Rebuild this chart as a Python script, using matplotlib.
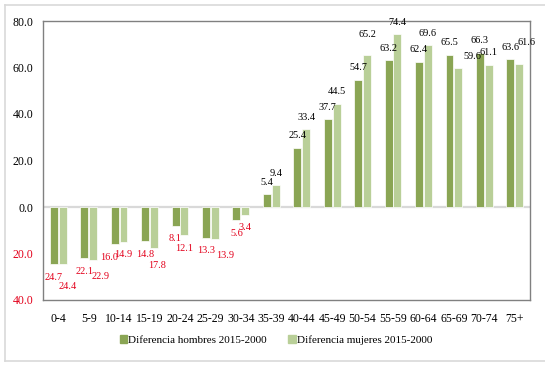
import matplotlib
matplotlib.use("Agg")
import matplotlib.pyplot as plt
import numpy as np
from matplotlib.lines import Line2D

categories = ["0-4", "5-9", "10-14", "15-19", "20-24", "25-29", "30-34", "35-39",
              "40-44", "45-49", "50-54", "55-59", "60-64", "65-69", "70-74", "75+"]
hombres = [-24.7, -22.1, -16.0, -14.8, -8.1, -13.3, -5.6, 5.4,
           25.4, 37.7, 54.7, 63.2, 62.4, 65.5, 66.3, 63.6]
mujeres = [-24.4, -22.9, -14.9, -17.8, -12.1, -13.9, -3.4, 9.4,
           33.4, 44.5, 65.2, 74.4, 69.6, 59.6, 61.1, 61.6]
yticks = [-40, -20, 0, 20, 40, 60, 80]
series_names = ["Diferencia hombres 2015-2000", "Diferencia mujeres 2015-2000"]

DARK = "#8aa554"
LIGHT = "#b9cf98"
RED = "#e3001b"
FONT = "Liberation Serif"
FS = 8.5
FS_LAB = 7.4
FS_LEG = 8.0

plt.rcParams["font.family"] = [FONT, "DejaVu Serif"]

fig = plt.figure(figsize=(5.45, 3.66), dpi=100)
ax = fig.add_axes([43/545, 1-300/366, (530-43)/545, (300-21)/366])

x = np.arange(len(categories))
w = 0.26
off = 0.145
ax.bar(x - off, hombres, w, color=DARK, edgecolor="white", linewidth=0.5, zorder=3,
       label=series_names[0])
ax.bar(x + off, mujeres, w, color=LIGHT, edgecolor="white", linewidth=0.5, zorder=3,
       label=series_names[1])

ax.set_xlim(-0.5, len(categories) - 0.5)
ax.set_ylim(-40, 80)
ax.axhline(0, color="#d9d9d9", lw=1.6, zorder=2)

ax.set_yticks(yticks)
ax.set_yticklabels([f"{abs(v):.1f}" for v in yticks], fontsize=FS)
for lab, v in zip(ax.get_yticklabels(), yticks):
    lab.set_color(RED if v < 0 else "black")
ax.set_xticks(x)
ax.set_xticklabels(categories, fontsize=FS)
ax.tick_params(axis="both", length=0)
ax.tick_params(axis="y", pad=7)
ax.tick_params(axis="x", pad=9)
for s in ax.spines.values():
    s.set_color("#808080")
    s.set_linewidth(1.0)

# label offsets in pixels (dx, dy extra) for special cases
extra_h = {2: (-6, 0)}
extra_m = {0: (5, -10), 1: (7, -3), 3: (3, -4), 5: (10, -3), 10: (0, 9),
           13: (14, 0), 15: (7, 9)}

def put_labels(vals, shift, extra):
    for i, v in enumerate(vals):
        dx, dy = extra.get(i, (0, 0))
        if v < 0:
            ax.annotate(f"{abs(v):.1f}", (x[i] + shift, v), xytext=(dx, -13 + dy),
                        textcoords="offset pixels", ha="center", va="center",
                        color=RED, fontsize=FS_LAB)
        else:
            ax.annotate(f"{v:.1f}", (x[i] + shift, v), xytext=(dx, 12 + dy),
                        textcoords="offset pixels", ha="center", va="center",
                        color="black", fontsize=FS_LAB)

put_labels(hombres, -off, extra_h)
put_labels(mujeres, off, extra_m)

handles = [plt.Rectangle((0, 0), 1, 1, color=DARK), plt.Rectangle((0, 0), 1, 1, color=LIGHT)]
fig.legend(handles, series_names, loc="center", bbox_to_anchor=(276/545, 1-340/366),
           ncol=2, frameon=False, fontsize=FS_LEG, handlelength=0.7, handleheight=0.7,
           handletextpad=0.1, columnspacing=1.9)

# outer frame
for (xs, ys) in [((5/545, 1.0), (1-5/366, 1-5/366)),
                 ((5/545, 5/545), (1-5/366, 1-361/366)),
                 ((5/545, 1.0), (1-361/366, 1-361/366))]:
    fig.add_artist(Line2D(xs, ys, transform=fig.transFigure, color="#d9d9d9", lw=1.2))

fig.savefig("out.png", dpi=100)
